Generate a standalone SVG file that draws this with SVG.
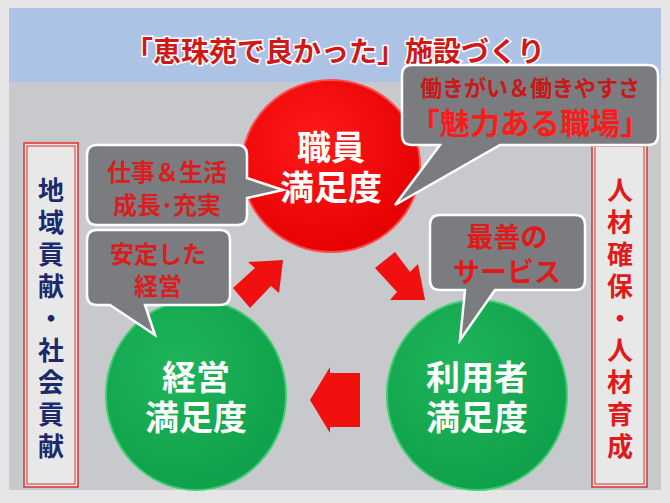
<svg xmlns="http://www.w3.org/2000/svg" width="670" height="503" viewBox="0 0 670 503">
<defs>
<style>
text{font-family:"Noto Sans CJK JP","Noto Sans CJK SC",sans-serif;font-weight:bold;text-anchor:middle}
.ct{fill:#fff;font-size:34px}
.cl{fill:#7a7c80;stroke:#fff;stroke-width:2.5}
.lt{fill:#d81e1e;font-size:24px}
.side{fill:#e8e8e8;stroke:#e0302c;stroke-width:1.5}
.arr{fill:#f01010}
</style>
<radialGradient id="rg" cx="0.4" cy="0.35" r="0.7"><stop offset="0" stop-color="#ff1a1a"/><stop offset="1" stop-color="#e40000"/></radialGradient>
<radialGradient id="gg" cx="0.4" cy="0.35" r="0.7"><stop offset="0" stop-color="#1fb45a"/><stop offset="1" stop-color="#0ea04a"/></radialGradient>
</defs>
<rect width="670" height="503" fill="#e6e6e6"/>
<rect x="9" y="82" width="652" height="408" fill="#c8c9cc"/>
<rect x="9" y="8" width="652" height="74" fill="#adc3e6"/>
<text x="335" y="62" font-size="28" fill="#d01818" stroke="#fff" stroke-width="3" paint-order="stroke">「恵珠苑で良かった」施設づくり</text>
<g id="side-left"><rect class="side" x="24" y="143" width="54" height="344"/><rect x="27" y="146" width="48" height="338" fill="none" stroke="#e0302c" stroke-width="1"/>
<text font-size="26" fill="#1a2a6c"><tspan x="51" y="200">地</tspan><tspan x="51" y="232">域</tspan><tspan x="51" y="264">貢</tspan><tspan x="51" y="296">献</tspan><tspan x="51" y="328">・</tspan><tspan x="51" y="360">社</tspan><tspan x="51" y="392">会</tspan><tspan x="51" y="424">貢</tspan><tspan x="51" y="456">献</tspan></text></g>
<g id="side-right"><rect class="side" x="592" y="143" width="55" height="344"/><rect x="595" y="146" width="49" height="338" fill="none" stroke="#e0302c" stroke-width="1"/>
<text font-size="26" fill="#e01a1a"><tspan x="620" y="200">人</tspan><tspan x="620" y="232">材</tspan><tspan x="620" y="264">確</tspan><tspan x="620" y="296">保</tspan><tspan x="620" y="328">・</tspan><tspan x="620" y="360">人</tspan><tspan x="620" y="392">材</tspan><tspan x="620" y="424">育</tspan><tspan x="620" y="456">成</tspan></text></g>
<g id="connectors">
<polygon class="arr" points="233,288 255,268 248,262 283,260 279,293 271,286 250,308"/>
<polygon class="arr" points="375,268 395,252 410,272 418,264 425,300 390,300 397,292"/>
<polygon class="arr" points="360,373 360,427 330,427 330,433 310,400 330,367 330,373"/>
</g>
<g id="staff"><ellipse cx="331" cy="166" rx="89" ry="86" fill="url(#rg)" stroke="#ff4a4a" stroke-width="2"/>
<text class="ct" x="331" y="160">職員</text><text class="ct" x="331" y="200">満足度</text></g>
<g id="mgmt"><ellipse cx="196" cy="395" rx="90" ry="95" fill="url(#gg)" stroke="#3ccf70" stroke-width="2"/>
<text class="ct" x="196" y="390">経営</text><text class="ct" x="196" y="430">満足度</text></g>
<g id="user"><ellipse cx="477" cy="395" rx="90" ry="95" fill="url(#gg)" stroke="#3ccf70" stroke-width="2"/>
<text class="ct" x="477" y="390">利用者</text><text class="ct" x="477" y="430">満足度</text></g>
<g id="callout-tr"><path class="cl" d="M412,65 H648 Q658,65 658,75 V135 Q658,145 648,145 H500 L395,205 L440,145 H412 Q402,145 402,135 V75 Q402,65 412,65 Z"/>
<text x="530" y="96" font-size="22" fill="#c81818">働きがい＆働きやすさ</text>
<text x="530" y="134" font-size="30" fill="#ff1a1a">「魅力ある職場」</text></g>
<g id="callout-l1"><path class="cl" d="M97,145 H237 Q247,145 247,155 V178 L283,190 L247,198 V215 Q247,225 237,225 H97 Q87,225 87,215 V155 Q87,145 97,145 Z"/>
<text class="lt" x="167" y="181">仕事＆生活</text><text class="lt" x="167" y="214">成長･充実</text></g>
<g id="callout-l2"><path class="cl" d="M97,230 H220 Q230,230 230,240 V295 Q230,305 220,305 H145 L155,335 L110,305 H97 Q87,305 87,295 V240 Q87,230 97,230 Z"/>
<text class="lt" x="158" y="263">安定した</text><text class="lt" x="158" y="295">経営</text></g>
<g id="callout-r"><path class="cl" d="M440,215 H575 Q585,215 585,225 V280 Q585,290 575,290 H495 L460,340 L465,290 H440 Q430,290 430,280 V225 Q430,215 440,215 Z"/>
<text x="507" y="247" font-size="27" fill="#e01a1a">最善の</text><text x="507" y="282" font-size="27" fill="#e01a1a">サービス</text></g>
</svg>
